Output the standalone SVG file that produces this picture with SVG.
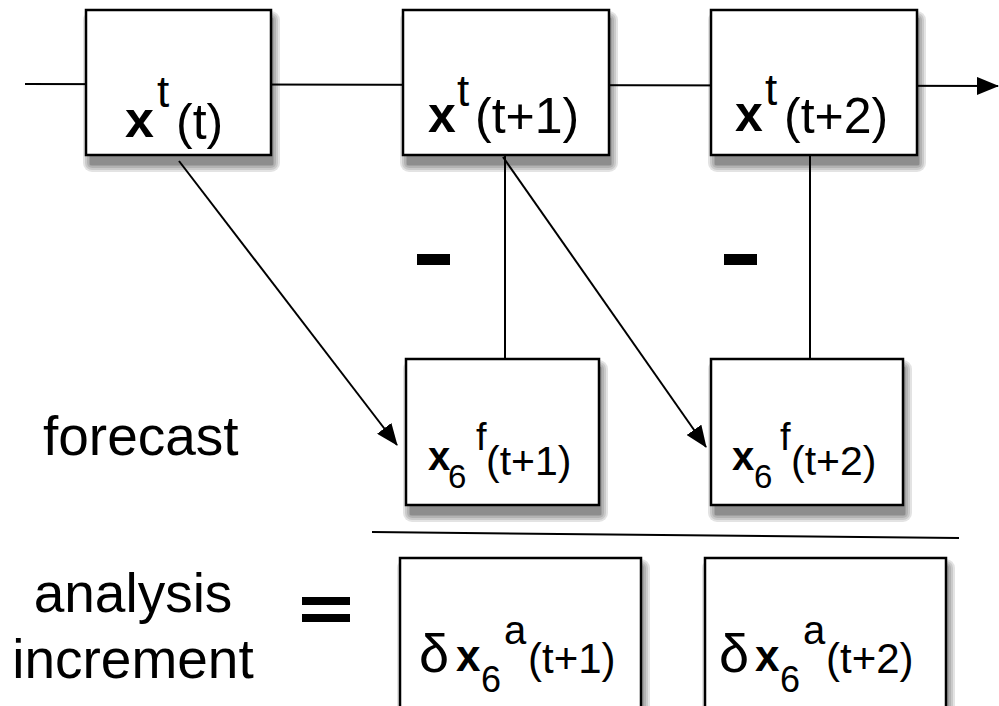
<svg xmlns="http://www.w3.org/2000/svg" width="999" height="706" viewBox="0 0 999 706">
<defs>
<marker id="ah" viewBox="0 0 22 18" refX="21" refY="9" markerWidth="22" markerHeight="18" markerUnits="userSpaceOnUse" orient="auto">
<path d="M0,0 L22,9 L0,18 Z" fill="#000"/>
</marker>
</defs>
<style>
.box{fill:#fff;stroke:#000;stroke-width:2.5}
.ln{stroke:#000;stroke-width:2;fill:none}
.s1{fill:#000;opacity:0.11}
text{font-family:"Liberation Sans",Arial,Helvetica,sans-serif;fill:#000}
.b{font-weight:bold}
.lab{font-size:55px}
</style>
<g id="shadows">
<g transform="translate(86,10)">
<rect class="s1" x="-3" y="1" width="197" height="161" rx="9"/><rect class="s1" x="-1" y="3" width="193" height="157" rx="7"/><rect class="s1" x="1" y="5" width="189" height="153" rx="5"/><rect class="s1" x="3" y="7" width="185" height="149" rx="3"/><rect class="s1" x="4" y="8" width="183" height="147"/>
</g>
<g transform="translate(403,10)">
<rect class="s1" x="-3" y="1" width="218" height="161" rx="9"/><rect class="s1" x="-1" y="3" width="214" height="157" rx="7"/><rect class="s1" x="1" y="5" width="210" height="153" rx="5"/><rect class="s1" x="3" y="7" width="206" height="149" rx="3"/><rect class="s1" x="4" y="8" width="204" height="147"/>
</g>
<g transform="translate(711,10)">
<rect class="s1" x="-3" y="1" width="218" height="161" rx="9"/><rect class="s1" x="-1" y="3" width="214" height="157" rx="7"/><rect class="s1" x="1" y="5" width="210" height="153" rx="5"/><rect class="s1" x="3" y="7" width="206" height="149" rx="3"/><rect class="s1" x="4" y="8" width="204" height="147"/>
</g>
<g transform="translate(406,359)">
<rect class="s1" x="-3" y="1" width="205" height="162" rx="9"/><rect class="s1" x="-1" y="3" width="201" height="158" rx="7"/><rect class="s1" x="1" y="5" width="197" height="154" rx="5"/><rect class="s1" x="3" y="7" width="193" height="150" rx="3"/><rect class="s1" x="4" y="8" width="191" height="148"/>
</g>
<g transform="translate(711,359)">
<rect class="s1" x="-3" y="1" width="204" height="162" rx="9"/><rect class="s1" x="-1" y="3" width="200" height="158" rx="7"/><rect class="s1" x="1" y="5" width="196" height="154" rx="5"/><rect class="s1" x="3" y="7" width="192" height="150" rx="3"/><rect class="s1" x="4" y="8" width="190" height="148"/>
</g>
<g transform="translate(400,558)">
<rect class="s1" x="-3" y="1" width="253" height="180" rx="9"/><rect class="s1" x="-1" y="3" width="249" height="176" rx="7"/><rect class="s1" x="1" y="5" width="245" height="172" rx="5"/><rect class="s1" x="3" y="7" width="241" height="168" rx="3"/>
</g>
<g transform="translate(705,558)">
<rect class="s1" x="-3" y="1" width="253" height="180" rx="9"/><rect class="s1" x="-1" y="3" width="249" height="176" rx="7"/><rect class="s1" x="1" y="5" width="245" height="172" rx="5"/><rect class="s1" x="3" y="7" width="241" height="168" rx="3"/>
</g>
</g>
<g id="connectors">
<line class="ln" x1="25" y1="84" x2="998" y2="86" marker-end="url(#ah)"/>
<line class="ln" x1="505" y1="155" x2="505" y2="359"/>
<line class="ln" x1="810" y1="155" x2="810" y2="359"/>
<line class="ln" x1="179" y1="161" x2="397" y2="445" marker-end="url(#ah)"/>
<line class="ln" x1="503" y1="157" x2="706" y2="447" marker-end="url(#ah)"/>
<line class="ln" x1="372" y1="532" x2="959" y2="538"/>
</g>
<g id="n1">
<rect class="box" x="86" y="10" width="185" height="145"/>
<text><tspan class="b" x="125" y="137" font-size="52">x</tspan><tspan x="157" y="107" font-size="44">t</tspan><tspan x="176" y="139" font-size="50">(t)</tspan></text>
</g>
<g id="n2">
<rect class="box" x="403" y="10" width="206" height="145"/>
<text><tspan class="b" x="428" y="132" font-size="50">x</tspan><tspan x="457" y="106" font-size="44">t</tspan><tspan x="475" y="133" font-size="50">(t+1)</tspan></text>
</g>
<g id="n3">
<rect class="box" x="711" y="10" width="206" height="145"/>
<text><tspan class="b" x="735" y="131" font-size="50">x</tspan><tspan x="765" y="105" font-size="44">t</tspan><tspan x="784" y="133" font-size="50">(t+2)</tspan></text>
</g>
<g id="n4">
<rect class="box" x="406" y="359" width="193" height="146"/>
<text><tspan class="b" x="428" y="470" font-size="40">x</tspan><tspan x="448" y="488" font-size="33">6</tspan><tspan x="476" y="450" font-size="38">f</tspan><tspan x="486" y="475" font-size="41">(t+1)</tspan></text>
</g>
<g id="n5">
<rect class="box" x="711" y="359" width="192" height="146"/>
<text><tspan class="b" x="732" y="470" font-size="40">x</tspan><tspan x="754" y="488" font-size="33">6</tspan><tspan x="780" y="450" font-size="38">f</tspan><tspan x="791" y="475" font-size="41">(t+2)</tspan></text>
</g>
<g id="n6">
<rect class="box" x="400" y="558" width="241" height="165"/>
<text><tspan x="419" y="672" font-size="54">δ</tspan><tspan class="b" x="456" y="671" font-size="44">x</tspan><tspan x="481" y="692" font-size="36">6</tspan><tspan x="504" y="644" font-size="40">a</tspan><tspan x="528" y="673" font-size="42">(t+1)</tspan></text>
</g>
<g id="n7">
<rect class="box" x="705" y="558" width="241" height="165"/>
<text><tspan x="719" y="672" font-size="54">δ</tspan><tspan class="b" x="755" y="671" font-size="44">x</tspan><tspan x="780" y="692" font-size="36">6</tspan><tspan x="803" y="644" font-size="40">a</tspan><tspan x="826" y="673" font-size="42">(t+2)</tspan></text>
</g>
<g id="labels">
<text class="lab" x="43" y="455">forecast</text>
<text class="lab" x="133" y="612" text-anchor="middle">analysis</text>
<text class="lab" x="133" y="678" text-anchor="middle">increment</text>
<rect x="417" y="254" width="33" height="11" fill="#000"/>
<rect x="724" y="254" width="33" height="11" fill="#000"/>
<rect x="302" y="597" width="48" height="8" fill="#000"/>
<rect x="302" y="614" width="48" height="8" fill="#000"/>
</g>
</svg>
